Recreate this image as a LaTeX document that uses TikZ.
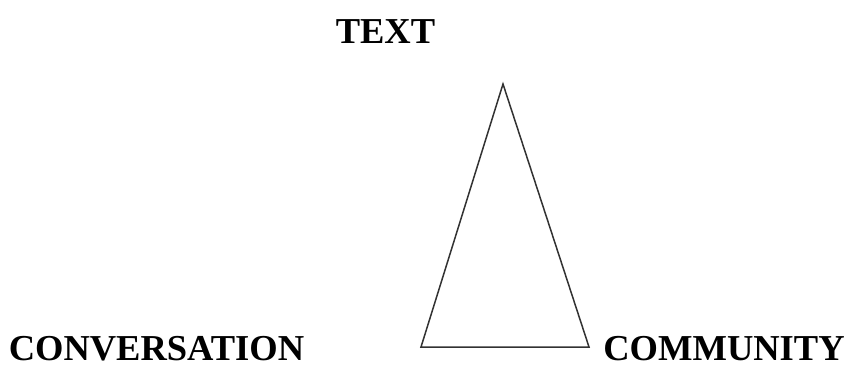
\documentclass[tikz,border=0pt]{standalone}
\usepackage{fontspec}
\setmainfont{Liberation Serif}
\definecolor{trEdge}{RGB}{50,50,50}
\tikzset{
  corner/.style={font=\fontsize{36.5}{40}\selectfont\bfseries,inner sep=0pt,anchor=base},
}

\begin{document}
\begin{tikzpicture}[x=1pt,y=-1pt]
  \useasboundingbox (0,0) rectangle (847,365);
  % --- Les trois pôles ---
  \node[corner] (text) at (385.5,43) {TEXT};
  \node[corner] (conv) at (156.5,360) {CONVERSATION};
  \node[corner] (comm) at (724,360) {COMMUNITY};
  % --- Le triangle ---
  \coordinate (apex) at (503,84);
  \coordinate (bl) at (421,347);
  \coordinate (br) at (589,347);
  \draw[trEdge,line width=1.5pt] (apex) -- (br) -- (bl) -- cycle;
\end{tikzpicture}
\end{document}
